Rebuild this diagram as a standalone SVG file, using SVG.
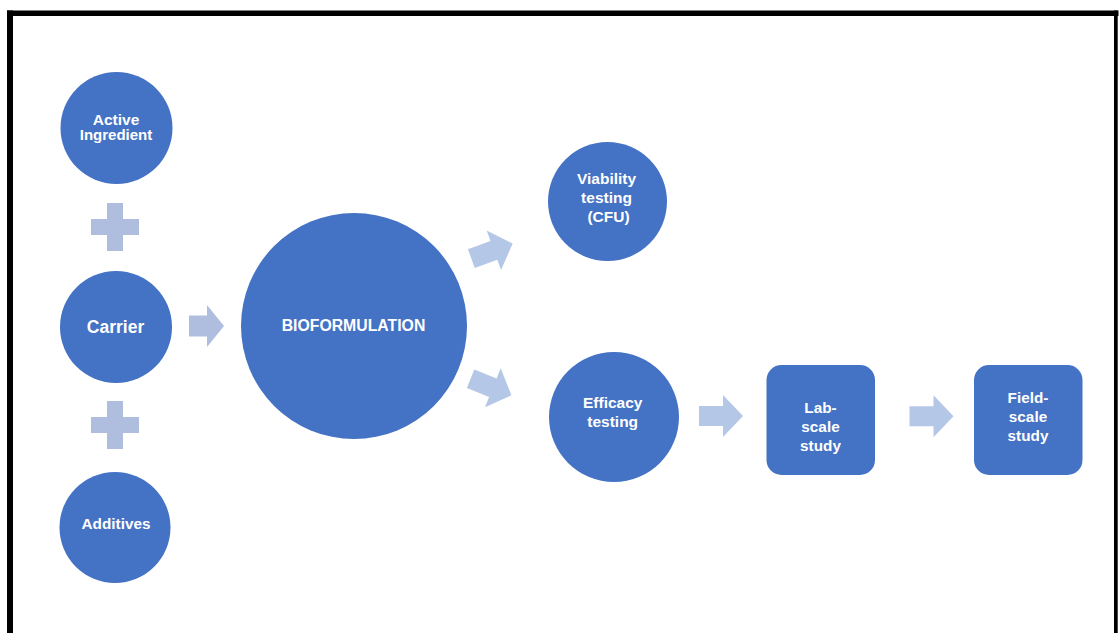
<svg xmlns="http://www.w3.org/2000/svg" width="1119" height="633" viewBox="0 0 1119 633">
<defs>
<style>
.node{fill:#4472c4;}
.lbl{font-family:"Liberation Sans",Arial,sans-serif;font-weight:bold;fill:#ffffff;text-anchor:middle;}
.plus{fill:#afbddf;}
.arr{fill:#b4c7e7;}
.arr2{fill:#afbddf;}
.frame{fill:#000000;}
</style>
<path id="arrow44" d="M -22,-10 H 2 V -21 L 22,0 L 2,21 V 10 H -22 Z"/>
<path id="plusShape" d="M -8,-24 H 8 V -8 H 24 V 8 H 8 V 24 H -8 V 8 H -24 V -8 H -8 Z"/>
</defs>
<rect width="1119" height="633" fill="#ffffff"/>
<g id="frame">
<rect class="frame" x="7" y="10.5" width="1111.5" height="5.5"/>
<rect class="frame" x="7" y="10.5" width="6" height="623"/>
<rect class="frame" x="1114" y="10.5" width="3.7" height="623"/>
</g>
<g id="connectors">
<use href="#plusShape" class="plus" x="115" y="227"/>
<use href="#plusShape" class="plus" x="115" y="425"/>
<path class="arr2" d="M 189,315.5 H 207 V 305 L 224,326 L 207,347 V 336.5 H 189 Z"/>
<use href="#arrow44" class="arr" transform="translate(492,251) rotate(-20)"/>
<use href="#arrow44" class="arr" transform="translate(491,387) rotate(22)"/>
<use href="#arrow44" class="arr" transform="translate(721,416)"/>
<use href="#arrow44" class="arr" transform="translate(931.5,416.3)"/>
</g>
<g id="active-ingredient">
<circle class="node" cx="116.5" cy="128" r="56"/>
<text class="lbl" font-size="15.5" x="116" y="125">Active</text>
<text class="lbl" font-size="15" x="116" y="140">Ingredient</text>
</g>
<g id="carrier">
<circle class="node" cx="116" cy="327" r="56"/>
<text class="lbl" font-size="17.5" x="115.5" y="332.5">Carrier</text>
</g>
<g id="additives">
<circle class="node" cx="115" cy="527.5" r="55.5"/>
<text class="lbl" font-size="15.3" x="116" y="528.5">Additives</text>
</g>
<g id="bioformulation">
<circle class="node" cx="354" cy="326" r="113"/>
<text class="lbl" font-size="15.8" x="353.5" y="330.7">BIOFORMULATION</text>
</g>
<g id="viability">
<circle class="node" cx="607.5" cy="201.5" r="59.5"/>
<text class="lbl" font-size="15.5" x="606.5" y="183.5">Viability</text>
<text class="lbl" font-size="15.5" x="606.5" y="203">testing</text>
<text class="lbl" font-size="15.5" x="608.5" y="222">(CFU)</text>
</g>
<g id="efficacy">
<circle class="node" cx="614" cy="417" r="65"/>
<text class="lbl" font-size="15.5" x="612.7" y="407.5">Efficacy</text>
<text class="lbl" font-size="15.5" x="612.7" y="426.5">testing</text>
</g>
<g id="lab-scale">
<rect class="node" x="766.5" y="365" width="108.5" height="110" rx="15"/>
<text class="lbl" font-size="15.3" x="820.5" y="412.5">Lab-</text>
<text class="lbl" font-size="15.3" x="820.5" y="431.5">scale</text>
<text class="lbl" font-size="15.3" x="820.5" y="450.5">study</text>
</g>
<g id="field-scale">
<rect class="node" x="974" y="365" width="108.5" height="110" rx="15"/>
<text class="lbl" font-size="15.3" x="1028" y="403.3">Field-</text>
<text class="lbl" font-size="15.3" x="1028" y="422.3">scale</text>
<text class="lbl" font-size="15.3" x="1028" y="441">study</text>
</g>
</svg>
